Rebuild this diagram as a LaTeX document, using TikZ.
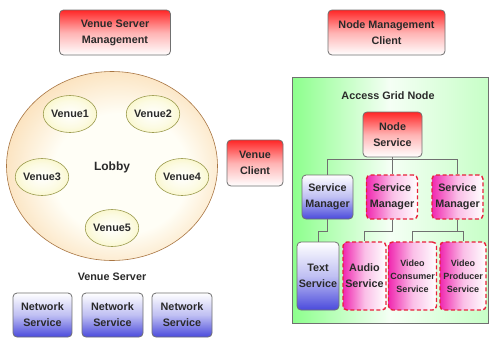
\documentclass[tikz,border=0pt]{standalone}
\usepackage{fontspec}
\setmainfont{Liberation Sans}
\usetikzlibrary{shapes.geometric}
\definecolor{txt}{HTML}{2A2A2A}
\definecolor{bord}{HTML}{707070}
\definecolor{pinkdash}{HTML}{E8203A}
\definecolor{hotpink}{HTML}{F028B0}
\definecolor{deepblue}{HTML}{4A4ADC}
\definecolor{cream}{HTML}{FFFEF6}
\definecolor{orng}{HTML}{F3A848}
\definecolor{vyel}{HTML}{F5F0A0}
\pgfdeclareradialshading{lobbysh}{\pgfpoint{3bp}{-3bp}}{color(0bp)=(cream); color(16bp)=(cream); color(32bp)=(orng!45!cream); color(44bp)=(orng); color(50bp)=(orng)}
\pgfdeclareradialshading{venuesh}{\pgfpoint{0bp}{0bp}}{color(0bp)=(white); color(18bp)=(white!70!vyel); color(42bp)=(vyel); color(50bp)=(vyel)}
\tikzset{
  lbl/.style={font=\bfseries\fontsize{10.8}{14}\selectfont, text=txt, align=center, inner sep=0pt},
  redbox/.style={lbl, draw=bord, line width=0.8pt, rounded corners=4pt, top color=red!85!white, bottom color=white, middle color=red!30!white},
  bluebox/.style={lbl, draw=bord, line width=0.8pt, rounded corners=4pt, top color=white, bottom color=deepblue, middle color=deepblue!35!white},
  pinkbox/.style={lbl, draw=pinkdash, line width=1.4pt, dash pattern=on 4pt off 2.5pt, rounded corners=4pt, left color=hotpink, right color=white, middle color=hotpink!30!white},
  venue/.style={lbl, ellipse, draw=bord!70!yellow, line width=0.6pt, shading=venuesh, minimum width=50pt, minimum height=37pt},
  conn/.style={draw=bord, line width=0.8pt},
}
\begin{document}
\begin{tikzpicture}[x=1pt,y=-1pt]
\useasboundingbox (0,0) rectangle (489,338);
\fill[white] (0,0) rectangle (489,338);

% top boxes
\node[redbox, minimum width=111pt, minimum height=45pt] (vsm) at (115,32.5) {Venue Server\\[2pt]Management};
\node[redbox, minimum width=117pt, minimum height=45pt] (nmc) at (386.5,32.5) {Node Management\\[2pt]Client};

% lobby
\node[ellipse, draw=bord!60!orange, line width=0.6pt, shading=lobbysh, minimum width=211pt, minimum height=189pt] (lobby) at (112,166) {};
\node[lbl, font=\bfseries\fontsize{12}{14}\selectfont] (lobbyt) at (112,167) {Lobby};
\node[venue] (v1) at (70,114) {Venue1};
\node[venue] (v2) at (153,114) {Venue2};
\node[venue] (v3) at (42,177) {Venue3};
\node[venue] (v4) at (182,177) {Venue4};
\node[venue] (v5) at (112,228) {Venue5};
\node[lbl] (vs) at (112,277) {Venue Server};

% network services
\node[bluebox, minimum width=59pt, minimum height=44pt] (ns1) at (42.5,315) {Network\\[2pt]Service};
\node[bluebox, minimum width=61pt, minimum height=44pt] (ns2) at (112.5,315) {Network\\[2pt]Service};
\node[bluebox, minimum width=60pt, minimum height=44pt] (ns3) at (182,315) {Network\\[2pt]Service};

% venue client
\node[redbox, minimum width=56pt, minimum height=46pt] (vc0) at (255,163) {Venue\\[2pt]Client};

% access grid node
\node[draw=bord, line width=0.8pt, left color=green!45!white, right color=green!22!white, middle color=green!4!white, minimum width=196pt, minimum height=246pt] (agn) at (390,200) {};
\node[lbl] (agnt) at (388,96) {Access Grid Node};

\node[redbox, minimum width=59pt, minimum height=45pt] (nsv) at (392.5,134.5) {Node\\[2pt]Service};

\node[bluebox, minimum width=51pt, minimum height=44pt] (sm1) at (327.5,197) {Service\\[2pt]Manager};
\node[pinkbox, minimum width=51pt, minimum height=44pt] (sm2) at (392,197) {Service\\[2pt]Manager};
\node[pinkbox, minimum width=51pt, minimum height=44pt] (sm3) at (457.5,197) {Service\\[2pt]Manager};

\node[bluebox, minimum width=42pt, minimum height=68pt] (ts) at (318,276) {Text\\[2pt]Service};
\node[pinkbox, minimum width=43pt, minimum height=68pt] (as) at (364.5,276) {Audio\\[2pt]Service};
\node[pinkbox, minimum width=48pt, minimum height=68pt, font=\bfseries\fontsize{9}{11}\selectfont] (vcs) at (412.5,276) {Video\\[2pt]Consumer\\[2pt]Service};
\node[pinkbox, minimum width=46pt, minimum height=68pt, font=\bfseries\fontsize{9}{11}\selectfont] (vps) at (463,276) {Video\\[2pt]Producer\\[2pt]Service};

% connectors
\coordinate (busy) at (0,159);
\draw[conn] (nsv.south) -- (nsv.south |- busy);
\draw[conn] (sm1.north |- busy) -- (sm3.north |- busy);
\draw[conn] (sm1.north |- busy) -- (sm1.north);
\draw[conn] (sm2.north |- busy) -- (sm2.north);
\draw[conn] (sm3.north |- busy) -- (sm3.north);

\coordinate (buslo) at (0,231);
\draw[conn] (sm1.south) -- (sm1.south |- buslo) -- (ts.north |- buslo) -- (ts.north);
\draw[conn] (sm2.south) -- (sm2.south |- buslo) -- (as.north |- buslo) -- (as.north);
\draw[conn] (sm3.south) -- (sm3.south |- buslo);
\draw[conn] (vcs.north) -- (vcs.north |- buslo) -- (vps.north |- buslo) -- (vps.north);
\end{tikzpicture}
\end{document}
